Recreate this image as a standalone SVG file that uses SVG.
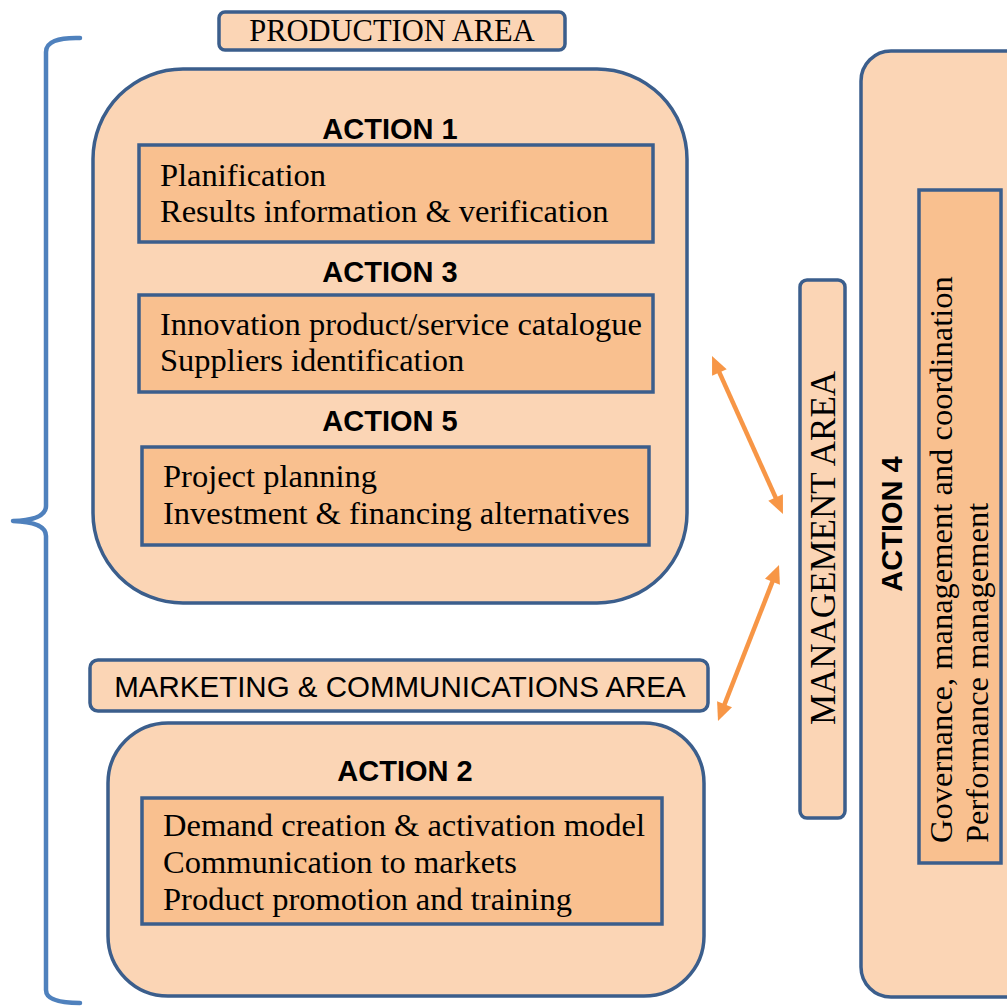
<svg xmlns="http://www.w3.org/2000/svg" width="1007" height="1006" viewBox="0 0 1007 1006">
<style>
.outer{fill:#FBD5B5;stroke:#3B5E8C;stroke-width:3.5}
.inner{fill:#F9C08F;stroke:#3B5E8C;stroke-width:3.5}
.serif{font-family:"Liberation Serif","Times New Roman",serif;font-size:32.5px;fill:#000}
.head{font-family:"Liberation Sans",Arial,sans-serif;font-weight:bold;font-size:29px;fill:#000;text-anchor:middle}
.area{font-family:"Liberation Serif","Times New Roman",serif;font-size:30.5px;fill:#000;text-anchor:middle}
.conn{stroke:#F79646;stroke-width:4.5;fill:none}
</style>
<defs>
<marker id="ah" markerUnits="userSpaceOnUse" markerWidth="20" markerHeight="20" viewBox="0 0 20 20" refX="11" refY="10" orient="auto-start-reverse">
<path d="M1,2 L19,10 L1,18 Z" fill="#F79646"/>
</marker>
</defs>
<rect width="1007" height="1006" fill="#fff"/>

<g id="brace">
<path d="M80,38 Q46,37 46,52 L46,506 Q46,520 13,521 Q46,522 46,536 L46,990 Q46,1003 80,1003" fill="none" stroke="#4F81BD" stroke-width="4.5" stroke-linecap="round" stroke-linejoin="round"/>
</g>

<g id="production-label">
<rect x="219" y="12" width="346" height="38" rx="6" class="outer"/>
<text x="392" y="41" class="area">PRODUCTION AREA</text>
</g>

<g id="production-area">
<rect x="93" y="69" width="594" height="534" rx="90" class="outer"/>
</g>

<g id="action1">
<text x="390" y="139" class="head">ACTION 1</text>
<rect x="139" y="145" width="514" height="97" class="inner"/>
<text class="serif"><tspan x="160" y="186">Planification</tspan><tspan x="160" y="222">Results information &amp; verification</tspan></text>
</g>

<g id="action3">
<text x="390" y="282" class="head">ACTION 3</text>
<rect x="139" y="295" width="514" height="97" class="inner"/>
<text class="serif"><tspan x="160" y="335">Innovation product/service catalogue</tspan><tspan x="160" y="371">Suppliers identification</tspan></text>
</g>

<g id="action5">
<text x="390" y="431" class="head">ACTION 5</text>
<rect x="142" y="447" width="507" height="98" class="inner"/>
<text class="serif"><tspan x="163" y="487">Project planning</tspan><tspan x="163" y="524">Investment &amp; financing alternatives</tspan></text>
</g>

<g id="marketing-label">
<rect x="90" y="660" width="618" height="51" rx="8" class="outer"/>
<text x="400" y="697" font-family="'Liberation Sans',Arial,sans-serif" font-size="29.5" text-anchor="middle" fill="#000">MARKETING &amp; COMMUNICATIONS AREA</text>
</g>

<g id="marketing-area">
<rect x="108" y="723" width="596" height="273" rx="60" class="outer"/>
</g>

<g id="action2">
<text x="405" y="781" class="head">ACTION 2</text>
<rect x="142" y="798" width="520" height="126" class="inner"/>
<text class="serif"><tspan x="163" y="836">Demand creation &amp; activation model</tspan><tspan x="163" y="873">Communication to markets</tspan><tspan x="163" y="910">Product promotion and training</tspan></text>
</g>

<g id="management-area">
<rect x="800" y="280" width="45" height="538" rx="7" class="outer"/>
<text transform="translate(835,548) rotate(-90)" x="0" y="0" font-family="'Liberation Serif','Times New Roman',serif" font-size="35" text-anchor="middle" fill="#000">MANAGEMENT AREA</text>
</g>

<g id="action4">
<rect x="861" y="51" width="180" height="946" rx="30" class="outer"/>
<text transform="translate(902,524) rotate(-90)" x="0" y="0" class="head">ACTION 4</text>
<rect x="919" y="190" width="82" height="673" class="inner"/>
<text transform="translate(952,843) rotate(-90)" x="0" y="0" class="serif">Governance, management and coordination</text>
<text transform="translate(988,843) rotate(-90)" x="0" y="0" class="serif">Performance management</text>
</g>

<g id="connectors">
<line x1="715.3" y1="363.3" x2="779.7" y2="506.7" class="conn" marker-start="url(#ah)" marker-end="url(#ah)"/>
<line x1="776.1" y1="572.4" x2="720.9" y2="713.6" class="conn" marker-start="url(#ah)" marker-end="url(#ah)"/>
</g>
</svg>
